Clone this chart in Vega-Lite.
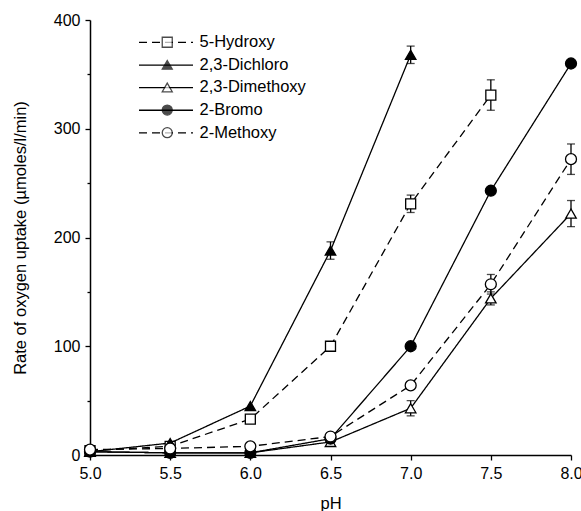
{
  "$schema": "https://vega.github.io/schema/vega-lite/v6.json",
  "width": 481,
  "height": 435,
  "autosize": "none",
  "padding": {"left": 90, "top": 20, "right": 10, "bottom": 56},
  "background": "white",
  "config": {
    "view": {"stroke": null},
    "font": "Liberation Sans",
    "axis": {
      "grid": false,
      "domainColor": "black",
      "domainWidth": 1.5,
      "tickColor": "black",
      "tickWidth": 1.3,
      "labelColor": "black",
      "titleColor": "black",
      "labelFontSize": 16,
      "titleFontSize": 16.5,
      "titleFontWeight": "normal",
      "labelFont": "Liberation Sans",
      "titleFont": "Liberation Sans"
    },
    "legend": {"labelFont": "Liberation Sans", "padding": 0}
  },
  "data": {
    "values": [
      {"compound": "5-Hydroxy", "pH": 5.0, "rate": 4},
      {"compound": "5-Hydroxy", "pH": 5.5, "rate": 8},
      {"compound": "5-Hydroxy", "pH": 6.0, "rate": 33},
      {"compound": "5-Hydroxy", "pH": 6.5, "rate": 100},
      {"compound": "5-Hydroxy", "pH": 7.0, "rate": 231, "lo": 223, "hi": 239},
      {"compound": "5-Hydroxy", "pH": 7.5, "rate": 331, "lo": 317, "hi": 345},
      {"compound": "2,3-Dichloro", "pH": 5.0, "rate": 3},
      {"compound": "2,3-Dichloro", "pH": 5.5, "rate": 11},
      {"compound": "2,3-Dichloro", "pH": 6.0, "rate": 45},
      {"compound": "2,3-Dichloro", "pH": 6.5, "rate": 188, "lo": 180, "hi": 196},
      {"compound": "2,3-Dichloro", "pH": 7.0, "rate": 368, "lo": 360, "hi": 376},
      {"compound": "2,3-Dimethoxy", "pH": 5.0, "rate": 3},
      {"compound": "2,3-Dimethoxy", "pH": 5.5, "rate": 2},
      {"compound": "2,3-Dimethoxy", "pH": 6.0, "rate": 2},
      {"compound": "2,3-Dimethoxy", "pH": 6.5, "rate": 12},
      {"compound": "2,3-Dimethoxy", "pH": 7.0, "rate": 43, "lo": 36, "hi": 50},
      {"compound": "2,3-Dimethoxy", "pH": 7.5, "rate": 144, "lo": 138, "hi": 150},
      {"compound": "2,3-Dimethoxy", "pH": 8.0, "rate": 222, "lo": 210, "hi": 234},
      {"compound": "2-Bromo", "pH": 5.0, "rate": 3},
      {"compound": "2-Bromo", "pH": 5.5, "rate": 2},
      {"compound": "2-Bromo", "pH": 6.0, "rate": 2},
      {"compound": "2-Bromo", "pH": 6.5, "rate": 15},
      {"compound": "2-Bromo", "pH": 7.0, "rate": 100},
      {"compound": "2-Bromo", "pH": 7.5, "rate": 243},
      {"compound": "2-Bromo", "pH": 8.0, "rate": 360},
      {"compound": "2-Methoxy", "pH": 5.0, "rate": 5},
      {"compound": "2-Methoxy", "pH": 5.5, "rate": 6},
      {"compound": "2-Methoxy", "pH": 6.0, "rate": 8},
      {"compound": "2-Methoxy", "pH": 6.5, "rate": 17},
      {"compound": "2-Methoxy", "pH": 7.0, "rate": 64},
      {"compound": "2-Methoxy", "pH": 7.5, "rate": 157, "lo": 148, "hi": 166},
      {"compound": "2-Methoxy", "pH": 8.0, "rate": 272, "lo": 258, "hi": 286}
    ]
  },
  "encoding": {
    "x": {
      "field": "pH", "type": "quantitative",
      "scale": {"domain": [5, 8], "nice": false, "zero": false},
      "axis": {"values": [5, 5.5, 6, 6.5, 7, 7.5, 8], "format": ".1f", "title": "pH", "tickSize": 5, "labelPadding": 5, "titlePadding": 14, "labelFlush": false}
    },
    "y": {"field": "rate", "type": "quantitative",
      "scale": {"domain": [0, 400], "nice": false},
      "title": "Rate of oxygen uptake (µmoles/l/min)",
      "axis": {
        "values": [0, 50, 100, 150, 200, 250, 300, 350, 400],
        "labelExpr": "datum.value % 100 === 0 ? datum.label : ''",
        "tickSize": {"condition": {"test": "datum.value % 100 !== 0", "value": 3}, "value": 5},
        "labelPadding": 5,
        "titlePadding": 25
      }
    }
  },
  "layer": [
    {
      "mark": {"type": "line", "strokeWidth": 1.3, "color": "black"},
      "encoding": {
        "detail": {"field": "compound"},
        "strokeDash": {"field": "compound", "type": "nominal",
          "scale": {"domain": ["2-Methoxy", "2-Bromo", "2,3-Dimethoxy", "2,3-Dichloro", "5-Hydroxy"],
                    "range": [[8, 5], [1, 0], [1, 0], [1, 0], [8, 5]]},
          "legend": {
            "title": null, "orient": "none", "legendX": 48, "legendY": 14,
            "values": ["5-Hydroxy", "2,3-Dichloro", "2,3-Dimethoxy", "2-Bromo", "2-Methoxy"],
            "symbolType": "stroke", "symbolSize": 2916, "symbolStrokeWidth": 1.3, "symbolStrokeColor": "black",
            "clipHeight": 16.9,
            "labelFontSize": 16.5, "labelOpacity": 0, "labelOffset": 4, "rowPadding": 5.6
          }
        }
      }
    },
    {
      "transform": [{"filter": "datum.lo != null"}],
      "mark": {"type": "errorbar", "color": "black", "thickness": 1.3, "ticks": {"size": 8, "color": "black", "strokeWidth": 1.3}},
      "encoding": {
        "y": {"field": "lo", "type": "quantitative", "title": "Rate of oxygen uptake (µmoles/l/min)"},
        "y2": {"field": "hi"}
      }
    },
    {
      "transform": [{"filter": "datum.compound === '5-Hydroxy'"}],
      "mark": {"type": "point", "shape": "square", "filled": true, "fill": "white", "stroke": "black", "strokeWidth": 1.3, "size": 100, "opacity": 1}
    },
    {
      "transform": [{"filter": "datum.compound === '2,3-Dichloro'"}],
      "mark": {"type": "point", "shape": "triangle-up", "filled": true, "fill": "black", "stroke": "black", "strokeWidth": 1.3, "size": 110, "opacity": 1}
    },
    {
      "transform": [{"filter": "datum.compound === '2,3-Dimethoxy'"}],
      "mark": {"type": "point", "shape": "triangle-up", "filled": true, "fill": "white", "stroke": "black", "strokeWidth": 1.3, "size": 110, "opacity": 1}
    },
    {
      "transform": [{"filter": "datum.compound === '2-Bromo'"}],
      "mark": {"type": "point", "shape": "circle", "filled": true, "fill": "black", "stroke": "black", "strokeWidth": 1.3, "size": 120, "opacity": 1}
    },
    {
      "transform": [{"filter": "datum.compound === '2-Methoxy'"}],
      "mark": {"type": "point", "shape": "circle", "filled": true, "fill": "white", "stroke": "black", "strokeWidth": 1.3, "size": 120, "opacity": 1}
    },
    {
      "transform": [{"filter": "false"}],
      "mark": {"type": "point", "filled": true, "stroke": "black", "strokeWidth": 1.3, "size": 100},
      "encoding": {
        "shape": {"field": "compound", "type": "nominal",
          "scale": {"domain": ["5-Hydroxy", "2,3-Dichloro", "2,3-Dimethoxy", "2-Bromo", "2-Methoxy"],
                    "range": ["square", "triangle-up", "triangle-up", "circle", "circle"]},
          "legend": {
            "title": null, "orient": "none", "legendX": 69, "legendY": 14,
            "symbolSize": 100, "symbolStrokeWidth": 1.3, "symbolStrokeColor": "black", "symbolFillColor": "white",
            "labelFontSize": 16.5, "labelColor": "black", "labelOffset": 24, "rowPadding": 5.6
          }
        },
        "fill": {"field": "compound", "type": "nominal",
          "scale": {"domain": ["5-Hydroxy", "2,3-Dichloro", "2,3-Dimethoxy", "2-Bromo", "2-Methoxy"],
                    "range": ["white", "black", "white", "black", "white"]},
          "legend": {
            "title": null, "orient": "none", "legendX": 69, "legendY": 14,
            "symbolSize": 100, "symbolStrokeWidth": 1.3, "symbolStrokeColor": "black", "symbolFillColor": "white",
            "labelFontSize": 16.5, "labelColor": "black", "labelOffset": 24, "rowPadding": 5.6
          }
        }
      }
    }
  ]
}
